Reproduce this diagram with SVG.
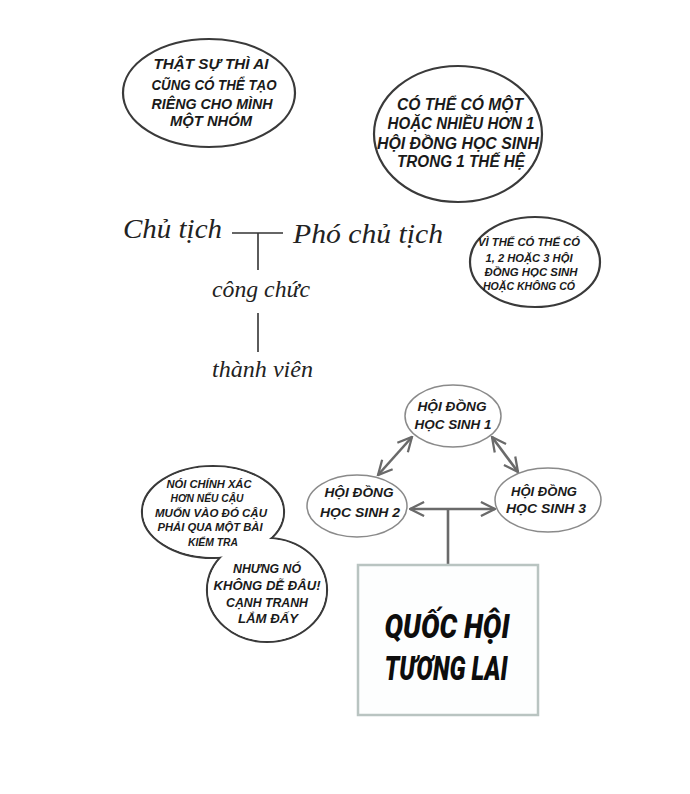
<svg xmlns="http://www.w3.org/2000/svg" width="690" height="794" viewBox="0 0 690 794">
<defs>
<style>
.bub{fill:#fff;stroke:#3a3a3a;stroke-width:2.2}
.fillonly{fill:#fff;stroke:none}
.comic{font-family:"Liberation Sans","Noto Sans",sans-serif;font-weight:bold;font-style:italic;fill:#1a1a1a;text-anchor:middle}
.hand{font-family:"Liberation Serif","DejaVu Serif",serif;font-style:italic;fill:#222}
.line{stroke:#333;stroke-width:1.6;fill:none}
.node{fill:#fff;stroke:#8a8a8a;stroke-width:1.5}
.arr{stroke:#6a6a6a;stroke-width:2.6;fill:none;marker-start:url(#ah);marker-end:url(#ah)}
.box{fill:#fdfefe;stroke:#b9c4c1;stroke-width:2.5}
.big{font-family:Roboto,"Liberation Sans",sans-serif;font-weight:900;font-style:italic;fill:#0d0d0d;text-anchor:middle}
</style>
<marker id="ah" viewBox="0 0 12 12" refX="11" refY="6" markerWidth="6.5" markerHeight="6.5" orient="auto-start-reverse" markerUnits="strokeWidth">
<path d="M1,1 L11,6 L1,11" fill="none" stroke="#6a6a6a" stroke-width="1.6"/>
</marker>
</defs>
<rect width="690" height="794" fill="#fff"/>

<g id="bubble1">
<ellipse class="bub" cx="209" cy="93" rx="86" ry="54"/>
<text class="comic" font-size="15" x="211" y="69" textLength="115" lengthAdjust="spacingAndGlyphs">THẬT SỰ THÌ AI</text>
<text class="comic" font-size="15" x="214" y="90" textLength="125" lengthAdjust="spacingAndGlyphs">CŨNG CÓ THỂ TẠO</text>
<text class="comic" font-size="15" x="212" y="109" textLength="121" lengthAdjust="spacingAndGlyphs">RIÊNG CHO MÌNH</text>
<text class="comic" font-size="15" x="211" y="126" textLength="82" lengthAdjust="spacingAndGlyphs">MỘT NHÓM</text>
</g>

<g id="bubble2">
<ellipse class="bub" cx="458" cy="134" rx="84" ry="68"/>
<text class="comic" font-size="16" x="460" y="110" textLength="126" lengthAdjust="spacingAndGlyphs">CÓ THỂ CÓ MỘT</text>
<text class="comic" font-size="16" x="461" y="129" textLength="147" lengthAdjust="spacingAndGlyphs">HOẶC NHIỀU HƠN 1</text>
<text class="comic" font-size="16" x="458" y="149" textLength="162" lengthAdjust="spacingAndGlyphs">HỘI ĐỒNG HỌC SINH</text>
<text class="comic" font-size="16" x="461" y="167" textLength="128" lengthAdjust="spacingAndGlyphs">TRONG 1 THẾ HỆ</text>
</g>

<g id="bubble3">
<ellipse class="bub" cx="535" cy="262" rx="65" ry="45"/>
<text class="comic" font-size="11" x="529" y="246" textLength="102" lengthAdjust="spacingAndGlyphs">VÌ THẾ CÓ THỂ CÓ</text>
<text class="comic" font-size="11" x="529" y="262" textLength="87" lengthAdjust="spacingAndGlyphs">1, 2 HOẶC 3 HỘI</text>
<text class="comic" font-size="11" x="531" y="276" textLength="93" lengthAdjust="spacingAndGlyphs">ĐỒNG HỌC SINH</text>
<text class="comic" font-size="11" x="529" y="290" textLength="92" lengthAdjust="spacingAndGlyphs">HOẶC KHÔNG CÓ</text>
</g>

<g id="hierarchy-lines">
<line class="line" x1="232" y1="233" x2="283" y2="233"/>
<line class="line" x1="258" y1="233" x2="258" y2="270"/>
<line class="line" x1="258" y1="313" x2="258" y2="352"/>
</g>
<g id="chu-tich"><text class="hand" font-size="28" x="123" y="238" textLength="99" lengthAdjust="spacingAndGlyphs">Chủ tịch</text></g>
<g id="pho-chu-tich"><text class="hand" font-size="28" x="293" y="243" textLength="150" lengthAdjust="spacingAndGlyphs">Phó chủ tịch</text></g>
<g id="cong-chuc"><text class="hand" font-size="24" x="212" y="297" textLength="98" lengthAdjust="spacingAndGlyphs">công chức</text></g>
<g id="thanh-vien"><text class="hand" font-size="24" x="212" y="377" textLength="101" lengthAdjust="spacingAndGlyphs">thành viên</text></g>

<g id="speech-pair">
<ellipse class="bub" cx="213" cy="512" rx="71" ry="46"/>
<ellipse class="bub" cx="267" cy="590" rx="60" ry="52"/>
<ellipse class="fillonly" cx="213" cy="512" rx="70" ry="45"/>
<ellipse class="fillonly" cx="267" cy="590" rx="59" ry="51"/>
<text class="comic" font-size="11.5" x="209" y="488" textLength="85" lengthAdjust="spacingAndGlyphs">NÓI CHÍNH XÁC</text>
<text class="comic" font-size="11.5" x="207" y="502" textLength="73" lengthAdjust="spacingAndGlyphs">HƠN NẾU CẬU</text>
<text class="comic" font-size="11.5" x="211" y="517" textLength="112" lengthAdjust="spacingAndGlyphs">MUỐN VÀO ĐÓ CẬU</text>
<text class="comic" font-size="11.5" x="210" y="531" textLength="105" lengthAdjust="spacingAndGlyphs">PHẢI QUA MỘT BÀI</text>
<text class="comic" font-size="11.5" x="213" y="546" textLength="50" lengthAdjust="spacingAndGlyphs">KIỂM TRA</text>
<text class="comic" font-size="13" x="267" y="573" textLength="68" lengthAdjust="spacingAndGlyphs">NHƯNG NÓ</text>
<text class="comic" font-size="13" x="267" y="590" textLength="107" lengthAdjust="spacingAndGlyphs">KHÔNG DỄ ĐÂU!</text>
<text class="comic" font-size="13" x="267" y="607" textLength="82" lengthAdjust="spacingAndGlyphs">CẠNH TRANH</text>
<text class="comic" font-size="13" x="268" y="623" textLength="60" lengthAdjust="spacingAndGlyphs">LẮM ĐẤY</text>
</g>

<g id="connectors">
<line class="arr" x1="412" y1="437" x2="378" y2="475"/>
<line class="arr" x1="492" y1="437" x2="518" y2="472"/>
<line class="arr" x1="410" y1="509" x2="495" y2="509"/>
<line x1="448" y1="509" x2="448" y2="565" stroke="#6a6a6a" stroke-width="2.6"/>
</g>

<g id="hdhs1">
<ellipse class="node" cx="453" cy="416" rx="48" ry="31"/>
<text class="comic" font-size="12.5" x="452" y="411" textLength="69" lengthAdjust="spacingAndGlyphs">HỘI ĐỒNG</text>
<text class="comic" font-size="12.5" x="453" y="429" textLength="77" lengthAdjust="spacingAndGlyphs">HỌC SINH 1</text>
</g>
<g id="hdhs2">
<ellipse class="node" cx="357" cy="506" rx="50" ry="31"/>
<text class="comic" font-size="12.5" x="359" y="497" textLength="69" lengthAdjust="spacingAndGlyphs">HỘI ĐỒNG</text>
<text class="comic" font-size="12.5" x="360" y="517" textLength="80" lengthAdjust="spacingAndGlyphs">HỌC SINH 2</text>
</g>
<g id="hdhs3">
<ellipse class="node" cx="548" cy="500" rx="53" ry="32"/>
<text class="comic" font-size="12.5" x="544" y="496" textLength="66" lengthAdjust="spacingAndGlyphs">HỘI ĐỒNG</text>
<text class="comic" font-size="12.5" x="546" y="513" textLength="80" lengthAdjust="spacingAndGlyphs">HỌC SINH 3</text>
</g>

<g id="quoc-hoi">
<rect class="box" x="358" y="565" width="180" height="150"/>
<text class="big" font-size="34" x="447" y="638" textLength="125" lengthAdjust="spacingAndGlyphs">QUỐC HỘI</text>
<text class="big" font-size="34" x="446" y="680" textLength="123" lengthAdjust="spacingAndGlyphs">TƯƠNG LAI</text>
</g>
</svg>
